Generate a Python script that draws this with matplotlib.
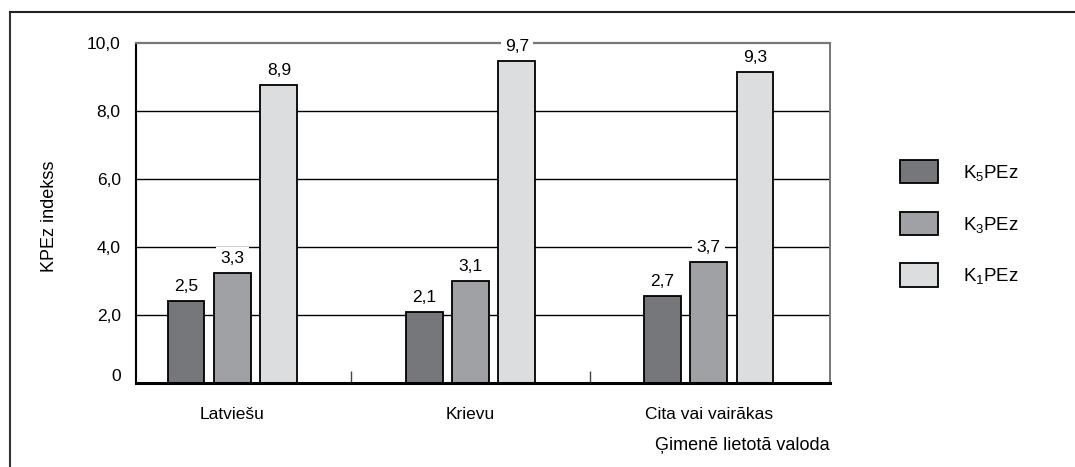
import numpy as np
import matplotlib
matplotlib.use("Agg")
import matplotlib.pyplot as plt
import matplotlib.transforms as mtrans
from matplotlib.lines import Line2D

plt.rcParams['font.family'] = ['Liberation Sans', 'DejaVu Sans']
plt.rcParams['mathtext.fontset'] = 'custom'
plt.rcParams['mathtext.rm'] = 'Liberation Sans'
plt.rcParams['mathtext.default'] = 'regular'

# dati
valodas = ["Latviešu", "Krievu", "Cita vai vairākas"]
serijas = ["K$_5$PEz", "K$_3$PEz", "K$_1$PEz"]
# stabiņu augstumi, kā tie nolasāmi attēlā
k5 = [2.42, 2.08, 2.56]
k3 = [3.24, 3.00, 3.56]
k1 = [8.76, 9.48, 9.16]
# uzraksti virs stabiņiem
k5_txt = ["2,5", "2,1", "2,7"]
k3_txt = ["3,3", "3,1", "3,7"]
k1_txt = ["8,9", "9,7", "9,3"]
y_ticks = [0, 2, 4, 6, 8, 10]
y_labels = ["0", "2,0", "4,0", "6,0", "8,0", "10,0"]

krasas = ["#76777b", "#a0a1a4", "#dcdddf"]

fig = plt.figure(figsize=(10.75, 4.67), dpi=100)
ax = fig.add_axes([136/1075, 1-383/467, (830-136)/1075, (383-43)/467])

x = np.arange(len(valodas))
plat = 0.155
solis = 0.195
for i, (h, t) in enumerate([(k5, k5_txt), (k3, k3_txt), (k1, k1_txt)]):
    stabi = ax.bar(x + (i-1)*solis, h, plat, color=krasas[i], edgecolor="black",
                   linewidth=1.3, label=serijas[i], zorder=3)
    for b, s in zip(stabi, t):
        ax.annotate(s, (b.get_x() + b.get_width()/2, b.get_height()),
                    xytext=(0, 5), textcoords="offset points", ha="center", va="bottom",
                    fontsize=12.5, zorder=5,
                    bbox=dict(boxstyle="square,pad=0.25", fc="white", ec="none"))

ax.set_xlim(-0.405, 2.51)
ax.set_ylim(0, 10)
ax.set_yticks(y_ticks)
ax.set_yticklabels(y_labels)
ax.set_xticks(x)
ax.set_xticklabels(valodas)
ax.set_xticks([0.5, 1.5], minor=True)
ax.tick_params(axis="y", length=0, pad=11, labelsize=12.5)
ax.tick_params(axis="x", which="major", length=0, pad=17, labelsize=12.5)
ax.tick_params(axis="x", which="minor", direction="in", length=9, width=1, color="#444444")

# nulle nedaudz virs ass
nulle = ax.get_yticklabels()[0]
nulle.set_transform(nulle.get_transform() + mtrans.ScaledTranslation(0, 8/100, fig.dpi_scale_trans))

for g in y_ticks[1:-1]:
    ax.axhline(g, color="black", linewidth=1, zorder=1)

ax.spines["bottom"].set_linewidth(2.2)
ax.spines["bottom"].set_zorder(4)
ax.spines["left"].set_linewidth(1.5)
ax.spines["top"].set_color("#777777")
ax.spines["top"].set_linewidth(1.6)
ax.spines["right"].set_color("#777777")
ax.spines["right"].set_linewidth(1.4)

ax.set_ylabel("KPEz indekss", fontsize=13)
ax.yaxis.set_label_coords(-0.112, 0.49)
ax.set_xlabel("Ģimenē lietotā valoda", fontsize=13, loc="right")
ax.xaxis.set_label_coords(1.0, -0.16)

ax.legend(loc="upper left", bbox_to_anchor=(900/1075, 1-160/467), bbox_transform=fig.transFigure,
          frameon=False, fontsize=13.5, handlelength=2.05, handleheight=1.55,
          labelspacing=1.5, handletextpad=1.3, borderpad=0, borderaxespad=0)

# ārējais rāmis
fig.add_artist(Line2D([10/1075, 10/1075], [0, 1-12/467], transform=fig.transFigure,
                      color="#333333", linewidth=1.5))
fig.add_artist(Line2D([10/1075, 1], [1-12/467, 1-12/467], transform=fig.transFigure,
                      color="#222222", linewidth=1.5))

fig.savefig("out.png", dpi=100)
